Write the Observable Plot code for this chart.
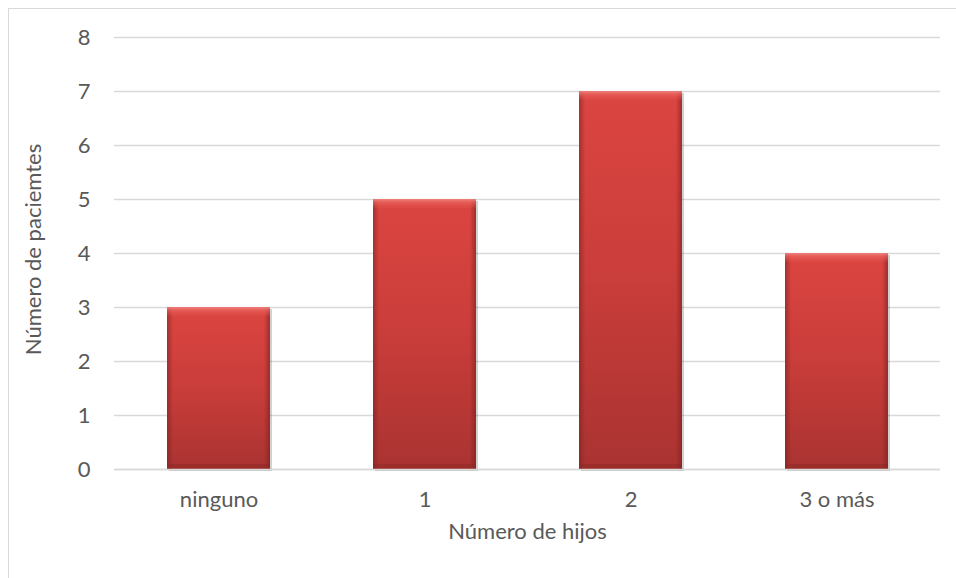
<!DOCTYPE html>
<html>
<head>
<meta charset="utf-8">
<script src="https://cdn.jsdelivr.net/npm/d3@7"></script>
<script src="https://cdn.jsdelivr.net/npm/@observablehq/plot@0.6"></script>
<style>
  html, body { margin: 0; padding: 0; background: #fff; }
  #wrap { position: relative; width: 956px; height: 578px; overflow: hidden; }
  #edge { position: absolute; left: 8px; top: 8px; right: -4px; bottom: -4px;
          border-left: 1.5px solid #d9d9d9; border-top: 1.5px solid #d9d9d9; pointer-events: none; }
  svg { font-family: Lato, "Open Sans", sans-serif; }
</style>
</head>
<body>
<div id="wrap"><div id="edge"></div></div>
<script>
// Number of children per patient group
const categories = ["ninguno", "1", "2", "3 o más"];
const patients = [3, 5, 7, 4];
const yTicks = [0, 1, 2, 3, 4, 5, 6, 7, 8];
const xTitle = "Número de hijos";
const yTitle = "Número de paciemtes";

const data = categories.map((c, i) => ({category: c, value: patients[i]}));
const textColor = "#595959";
const fs = 22;

const chart = Plot.plot({
  width: 956,
  height: 578,
  marginLeft: 114,
  marginRight: 16,
  marginTop: 37,
  marginBottom: 109,
  style: {color: textColor, background: "transparent"},
  x: {domain: categories, paddingInner: 0.5, paddingOuter: 0.25, label: null},
  y: {domain: [0, 8], label: null},
  marks: [
    Plot.gridY(yTicks, {stroke: "#d9d9d9", strokeOpacity: 1, strokeWidth: 1.5}),
    Plot.axisY(yTicks, {tickSize: 0, tickPadding: 24, tickFormat: "d", fontSize: fs, label: null, fill: textColor}),
    Plot.axisX({tickSize: 0, tickPadding: 22, fontSize: fs, label: null, fill: textColor}),
    // shadow
    Plot.barY(data, {x: "category", y: "value", fill: "#000", fillOpacity: 0.18, dx: 2, dy: 2, style: {filter: "blur(1.5px)"}}),
    // main body with vertical shading
    Plot.barY(data, {x: "category", y: "value", fill: "url(#barBody)"}),
    // darker side edges
    Plot.barY(data, {x: "category", y: "value", fill: "url(#barSides)"}),
    // top bevel highlight
    Plot.barY(data, {x: "category", y1: "value", y2: "value", insetBottom: -10, fill: "url(#barTop)"}),
    // bottom edge
    Plot.barY(data, {x: "category", y1: 0, y2: 0, insetTop: -5, fill: "#8a2826", fillOpacity: 0.45}),
    Plot.ruleY([0], {stroke: "#d9d9d9", strokeWidth: 1.5}),
    Plot.text([xTitle], {text: d => d, frameAnchor: "bottom", dy: 69, fontSize: fs, fill: textColor}),
    Plot.text([yTitle], {text: d => d, frameAnchor: "left", textAnchor: "middle", dx: -81, dy: -4, rotate: -90, fontSize: fs, fill: textColor})
  ]
});

d3.select(chart).insert("defs", ":first-child").html(`
  <linearGradient id="barBody" x1="0" y1="0" x2="0" y2="1">
    <stop offset="0" stop-color="#dc4541"/>
    <stop offset="0.5" stop-color="#c93d3a"/>
    <stop offset="1" stop-color="#a93331"/>
  </linearGradient>
  <linearGradient id="barSides" x1="0" y1="0" x2="1" y2="0">
    <stop offset="0" stop-color="#7a1f1d" stop-opacity="0.55"/>
    <stop offset="0.06" stop-color="#7a1f1d" stop-opacity="0.0"/>
    <stop offset="0.94" stop-color="#7a1f1d" stop-opacity="0.0"/>
    <stop offset="1" stop-color="#7a1f1d" stop-opacity="0.6"/>
  </linearGradient>
  <linearGradient id="barTop" x1="0" y1="0" x2="0" y2="1">
    <stop offset="0" stop-color="#f08a85" stop-opacity="0.9"/>
    <stop offset="0.35" stop-color="#ec6a65" stop-opacity="0.6"/>
    <stop offset="1" stop-color="#e55a55" stop-opacity="0"/>
  </linearGradient>
`);

document.getElementById("wrap").appendChild(chart);
chart.style.position = "absolute";
chart.style.left = "0";
chart.style.top = "0";
</script>
</body>
</html>
